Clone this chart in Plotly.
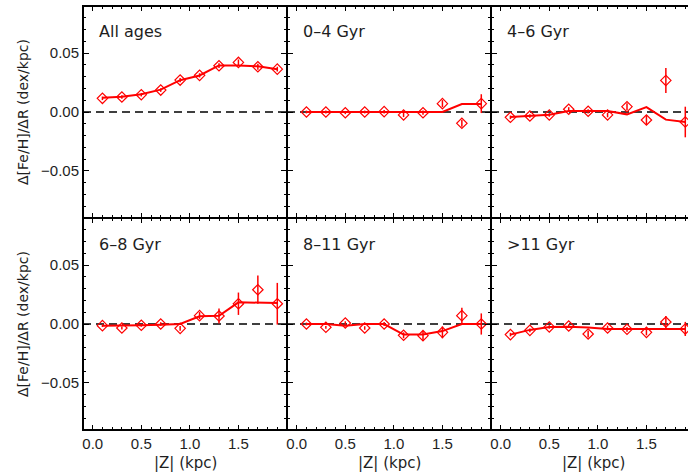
import plotly.graph_objects as go

# ---- data ----
z = [0.1, 0.3, 0.5, 0.7, 0.9, 1.1, 1.3, 1.5, 1.7, 1.9]

labels = ["All ages", "0–4 Gyr", "4–6 Gyr", "6–8 Gyr", "8–11 Gyr", ">11 Gyr"]

all_pts = [0.0116, 0.0127, 0.0147, 0.0186, 0.0271, 0.0311, 0.0393, 0.0421, 0.0384, 0.0364]
all_err = [0.0015, 0.0015, 0.0015, 0.0015, 0.0018, 0.0018, 0.0020, 0.0025, 0.0025, 0.0020]
all_fit = [0.0120, 0.0130, 0.0150, 0.0190, 0.0270, 0.0310, 0.0395, 0.0395, 0.0388, 0.0362]

a04_pts = [0.0000, 0.0000, -0.0006, 0.0000, 0.0003, -0.0025, -0.0006, 0.0071, -0.0096, 0.0071]
a04_err = [0.0012, 0.0012, 0.0012, 0.0012, 0.0015, 0.0018, 0.0018, 0.0030, 0.0030, 0.0080]
a04_fit = [0.0, 0.0, 0.0, 0.0, 0.0, 0.0, 0.0, 0.0, 0.0068, 0.0068]

a46_pts = [-0.0045, -0.0034, -0.0025, 0.0023, 0.0006, -0.0025, 0.0045, -0.0068, 0.0268, -0.0085]
a46_err = [0.0015, 0.0015, 0.0015, 0.0018, 0.0018, 0.0020, 0.0030, 0.0040, 0.0106, 0.0130]
a46_fit = [-0.0042, -0.0034, -0.0023, 0.0008, 0.0008, 0.0008, -0.0020, 0.0042, -0.0065, -0.0085]

a68_pts = [-0.0014, -0.0034, -0.0011, 0.0000, -0.0037, 0.0071, 0.0068, 0.0172, 0.0291, 0.0172]
a68_err = [0.0012, 0.0012, 0.0012, 0.0015, 0.0020, 0.0030, 0.0064, 0.0095, 0.0120, 0.0177]
a68_fit = [-0.0014, -0.0014, -0.0010, -0.0006, 0.0000, 0.0065, 0.0070, 0.0184, 0.0184, 0.0178]

a811_pts = [0.0000, -0.0028, 0.0008, -0.0034, 0.0000, -0.0096, -0.0099, -0.0071, 0.0071, 0.0000]
a811_err = [0.0012, 0.0012, 0.0015, 0.0015, 0.0018, 0.0025, 0.0040, 0.0050, 0.0068, 0.0090]
a811_fit = [0.0, 0.0, -0.0014, 0.0, 0.0, -0.0090, -0.0090, -0.0060, 0.0, 0.0]

a11_pts = [-0.0090, -0.0054, -0.0025, -0.0017, -0.0085, -0.0034, -0.0045, -0.0071, 0.0017, -0.0042]
a11_err = [0.0015, 0.0015, 0.0015, 0.0015, 0.0030, 0.0020, 0.0020, 0.0025, 0.0050, 0.0060]
a11_fit = [-0.0090, -0.0050, -0.0025, -0.0023, -0.0030, -0.0042, -0.0042, -0.0042, -0.0042, -0.0042]

panels = [
    (all_pts, all_err, all_fit),
    (a04_pts, a04_err, a04_fit),
    (a46_pts, a46_err, a46_fit),
    (a68_pts, a68_err, a68_fit),
    (a811_pts, a811_err, a811_fit),
    (a11_pts, a11_err, a11_fit),
]

x_ticks = [0.0, 0.5, 1.0, 1.5]
y_ticks = [-0.05, 0.0, 0.05]
ytitle = "Δ[Fe/H]/ΔR (dex/kpc)"
xtitle = "|Z| (kpc)"

# ---- layout geometry (pixels) ----
W, H = 688, 475
ML, MR, MT, MB = 83, 0, 6, 45
PW_px = W - ML - MR           # 605
PH_px = H - MT - MB           # 424
panel_w = 204
panel_h = 212
xr = [-0.1, 2.0]
px_per_unit = panel_w / (xr[1] - xr[0])

FONT = "Liberation Sans"
FONT2 = "DejaVu Sans"
TXT = "#1e1e1e"
RED = "#ff0000"

fig = go.Figure()

for i, (pts, err, fit) in enumerate(panels):
    n = i + 1
    xa = "x" if n == 1 else f"x{n}"
    ya = "y" if n == 1 else f"y{n}"
    # dashed zero line
    fig.add_shape(type="line", xref=f"{xa} domain", yref=ya, x0=0, x1=1, y0=0, y1=0,
                  line=dict(color="black", width=1.5, dash="8px,5px"), layer="below")
    fig.add_trace(go.Scatter(x=z, y=fit, mode="lines", line=dict(color=RED, width=2),
                             xaxis=xa, yaxis=ya, showlegend=False, hoverinfo="skip"))
    fig.add_trace(go.Scatter(x=z, y=pts, mode="markers",
                             marker=dict(symbol="diamond-open", size=8, color=RED,
                                         line=dict(color=RED, width=1.2)),
                             error_y=dict(type="data", array=err, color=RED, thickness=1.5, width=0),
                             xaxis=xa, yaxis=ya, showlegend=False))

    col = i % 3
    row = i // 3
    x0 = col * panel_w / PW_px
    x1 = min(1.0, (col + 1) * panel_w / PW_px)
    y1 = 1 - row * panel_h / PH_px
    y0 = 1 - (row + 1) * panel_h / PH_px
    vis_w = (x1 - x0) * PW_px
    rng = [xr[0], xr[0] + vis_w / px_per_unit]

    xkey = "xaxis" if n == 1 else f"xaxis{n}"
    ykey = "yaxis" if n == 1 else f"yaxis{n}"
    fig.update_layout(**{
        xkey: dict(domain=[x0, x1], range=rng, anchor=ya, tickvals=x_ticks, tickformat=".1f",
                   ticks="inside", ticklen=5, tickwidth=1.2, tickcolor="black",
                   minor=dict(ticks="inside", ticklen=3, dtick=0.1, tick0=0, tickwidth=1.2, tickcolor="black"),
                   showline=True, linecolor="black", linewidth=1, mirror="allticks",
                   showgrid=False, zeroline=False, showticklabels=(row == 1),
                   tickfont=dict(family=FONT, size=15, color=TXT)),
        ykey: dict(domain=[y0, y1], range=[-0.09, 0.09], anchor=xa, tickvals=y_ticks, tickformat=".2f",
                   ticks="inside", ticklen=6, tickwidth=1.2, tickcolor="black",
                   minor=dict(ticks="inside", ticklen=3, dtick=0.01, tick0=0, tickwidth=1.2, tickcolor="black"),
                   showline=True, linecolor="black", linewidth=1,
                   mirror=("allticks" if col < 2 else False),
                   showgrid=False, zeroline=False, showticklabels=(col == 0),
                   tickfont=dict(family=FONT, size=15, color=TXT)),
    })
    # panel label
    fig.add_annotation(text=labels[i], xref=f"{xa} domain", yref=f"{ya} domain",
                       x=14 / vis_w, y=1 - 26 / panel_h, xanchor="left", yanchor="middle",
                       showarrow=False, font=dict(family=FONT2, size=16, color=TXT))
    # x title
    if row == 1:
        cx = (col * panel_w + panel_w / 2) / PW_px
        fig.add_annotation(text=xtitle, xref="paper", yref="paper", x=cx, y=-(463 - (H - MB)) / PH_px,
                           xanchor="center", yanchor="middle", showarrow=False,
                           font=dict(family=FONT2, size=15, color=TXT))
    # y title
    if col == 0:
        cy = 1 - (row * panel_h + panel_h / 2) / PH_px
        fig.add_annotation(text=ytitle, xref="paper", yref="paper", x=(23 - ML) / PW_px, y=cy,
                           xanchor="center", yanchor="middle", textangle=-90, showarrow=False,
                           font=dict(family=FONT2, size=14, color=TXT))

# thicken the outer frame to match the inner (double) boundaries
for (xx0, yy0, xx1, yy1) in [(0, 0, 0, 1), (0, 0, 1, 0), (0, 1, 1, 1)]:
    fig.add_shape(type="line", xref="paper", yref="paper", x0=xx0, y0=yy0, x1=xx1, y1=yy1,
                  line=dict(color="black", width=2), layer="above")

fig.update_layout(width=W, height=H, margin=dict(l=ML, r=MR, t=MT, b=MB),
                  paper_bgcolor="white", plot_bgcolor="rgba(0,0,0,0)", showlegend=False)

fig.write_html("out.html")
